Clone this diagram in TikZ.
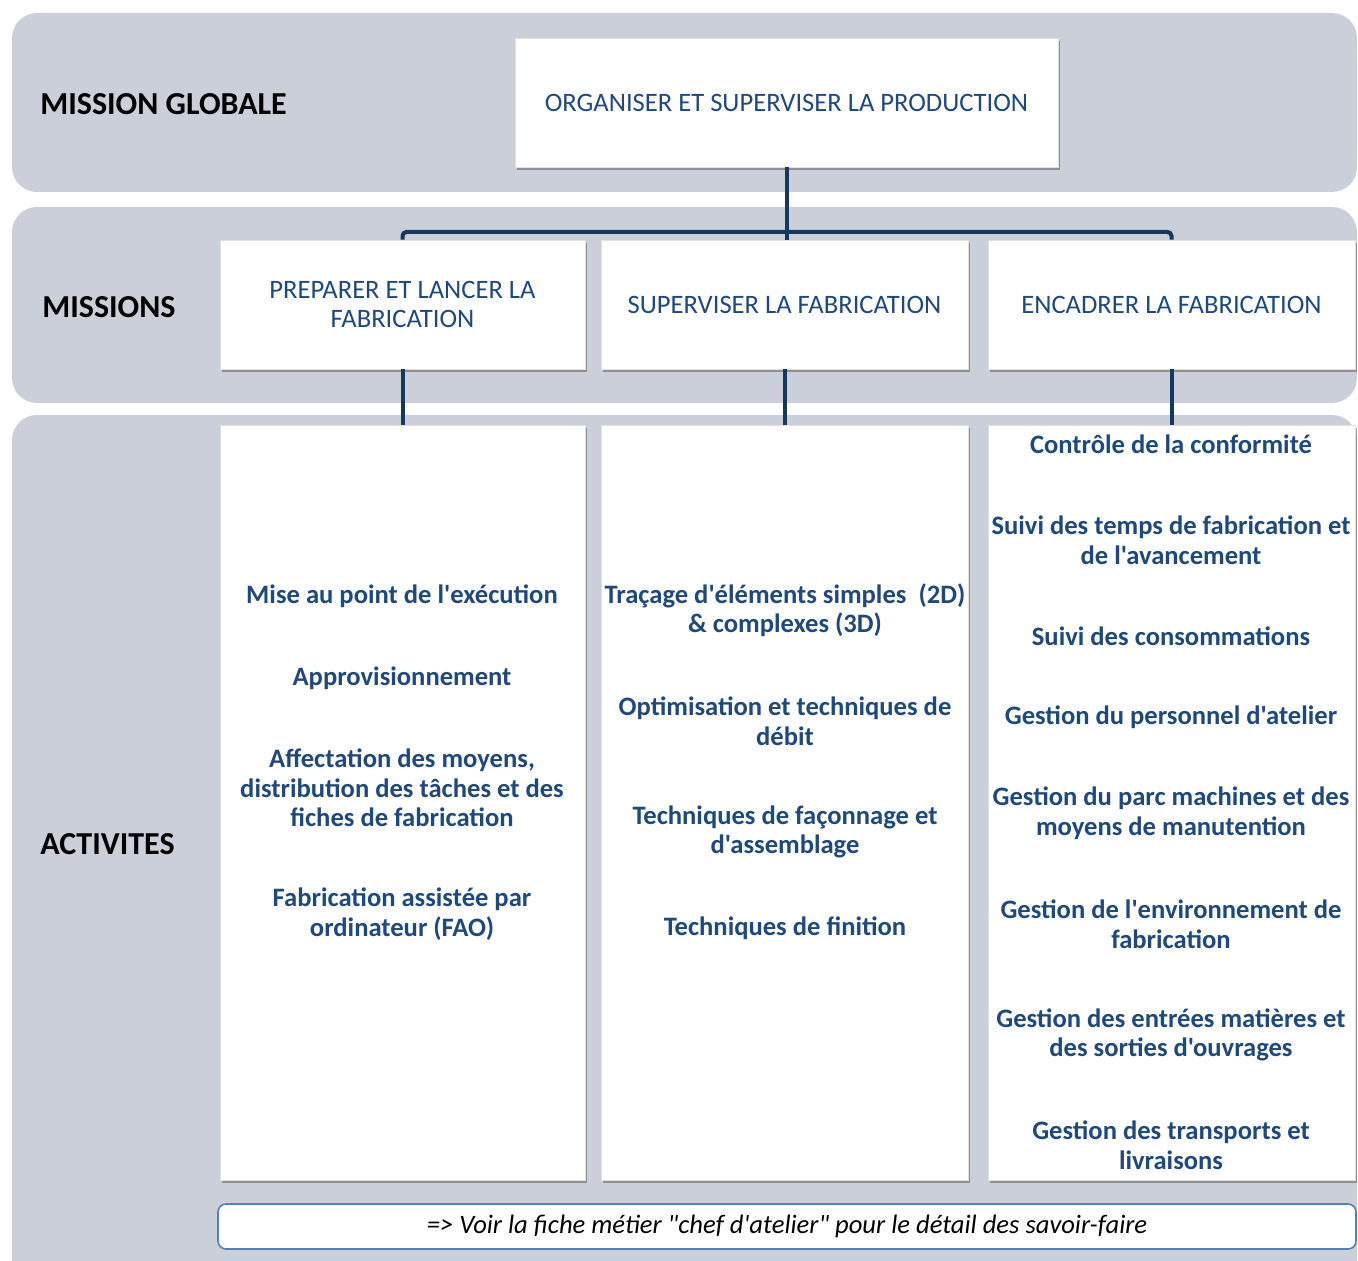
\documentclass[tikz,border=0pt]{standalone}
\usepackage{fontspec}
\setmainfont{Carlito}[Ligatures=TeXOff]
\usetikzlibrary{shadows}
\definecolor{bandgray}{RGB}{203,207,217}
\definecolor{textblue}{RGB}{31,73,125}
\definecolor{linkblue}{RGB}{23,55,94}
\definecolor{noteblue}{RGB}{79,129,189}
\tikzset{
    band/.style = {fill=bandgray, rounded corners=12.5pt},
    row-label/.style = {anchor=west, inner sep=0pt, font=\bfseries\fontsize{16}{18}\selectfont},
    white-box/.style = {fill=white, draw=black!12, thin, rectangle, align=center, text=textblue,
        drop shadow={shadow xshift=1.2pt, shadow yshift=-1.5pt, fill=black!60, opacity=0.6}},
    mission-box/.style = {white-box, minimum height=64.5pt, font=\fontsize{13.3}{14.75}\selectfont},
    activity-box/.style = {white-box, minimum height=377.5pt},
    activity-text/.style = {align=center, text=textblue, font=\bfseries\fontsize{13.3}{14.75}\selectfont},
    note-box/.style = {fill=white, draw=noteblue, thick, rounded corners=4pt, minimum width=569pt, minimum height=22.5pt,
        font=\itshape\fontsize{13.3}{14}\selectfont},
    link/.style = {draw=linkblue, line width=2pt},
}
\begin{document}
\begin{tikzpicture}[x=0.5pt, y=-0.5pt]
\useasboundingbox (0,0) rectangle (1358,1261);
\clip (0,0) rectangle (1358,1261);

% bands
\fill[band] (12,13) rectangle (1357,192);
\fill[band] (12,207) rectangle (1357,403);
\fill[band] (12,415) rectangle (1357,1290);

% row labels
\node[row-label] (global-label) at (40,104) {MISSION GLOBALE};
\node[row-label] (missions-label) at (42,307) {MISSIONS};
\node[row-label] (activites-label) at (40,844) {ACTIVITES};

% mission boxes
\node[mission-box, minimum width=271.5pt] (global) at (786.5,102.5) {ORGANISER ET SUPERVISER LA PRODUCTION};
\node[mission-box, minimum width=182.5pt] (preparer) at (402.5,304.5) {PREPARER ET LANCER LA\\FABRICATION};
\node[mission-box, minimum width=183.5pt] (superviser) at (784.5,304.5) {SUPERVISER LA FABRICATION};
\node[mission-box, minimum width=183.5pt] (encadrer) at (1171.5,304.5) {ENCADRER LA FABRICATION};

% activity boxes
\node[activity-box, minimum width=182.5pt] (preparer-act) at (402.5,802.5) {};
\node[activity-box, minimum width=183.5pt] (superviser-act) at (784.5,802.5) {};
\node[activity-box, minimum width=183.5pt] (encadrer-act) at (1171.5,802.5) {};

% links
\coordinate (bus) at (786,232);
\draw[link] (global.south) -- (global.south |- superviser.north);
\draw[link, rounded corners=2pt] (preparer.north) |- (bus) -| (encadrer.north);
\draw[link] (preparer.south) -- (preparer-act.north);
\draw[link] (superviser.south) -- (superviser-act.north);
\draw[link] (encadrer.south) -- (encadrer-act.north);

% activities: preparer
\node[activity-text] (mise-au-point) at (402,596) {Mise au point de l'exécution};
\node[activity-text] (appro) at (402,678) {Approvisionnement};
\node[activity-text] (affectation) at (402,788) {Affectation des moyens,\\distribution des tâches et des\\fiches de fabrication};
\node[activity-text] (fao) at (402,914) {Fabrication assistée par\\ordinateur (FAO)};

% activities: superviser
\node[activity-text] (tracage) at (785,610) {Traçage d'éléments simples~~(2D)\\\& complexes (3D)};
\node[activity-text] (optimisation) at (785,721) {Optimisation et techniques de\\débit};
\node[activity-text] (faconnage) at (785,832) {Techniques de façonnage et\\d'assemblage};
\node[activity-text] (finition) at (785,928) {Techniques de finition};

% activities: encadrer
\node[activity-text] (conformite) at (1171,444) {Contrôle de la conformité};
\node[activity-text] (temps) at (1171,540) {Suivi des temps de fabrication et\\de l'avancement};
\node[activity-text] (consommations) at (1171,636) {Suivi des consommations};
\node[activity-text] (personnel) at (1171,717) {Gestion du personnel d'atelier};
\node[activity-text] (parc) at (1171,813) {Gestion du parc machines et des\\moyens de manutention};
\node[activity-text] (environnement) at (1171,924) {Gestion de l'environnement de\\fabrication};
\node[activity-text] (entrees) at (1171,1035) {Gestion des entrées matières et\\des sorties d'ouvrages};
\node[activity-text] (transports) at (1171,1145) {Gestion des transports et\\livraisons};

% note
\node[note-box] (note) at (787,1226.5) {=> Voir la fiche métier "chef d'atelier" pour le détail des savoir-faire};
\end{tikzpicture}
\end{document}
